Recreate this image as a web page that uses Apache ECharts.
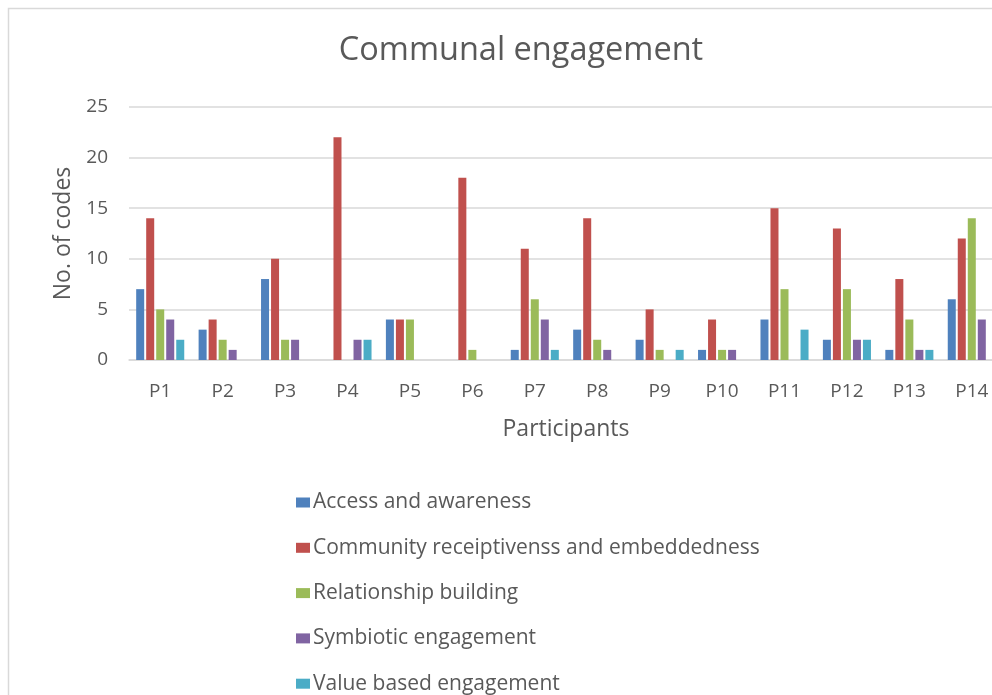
<!DOCTYPE html>
<html>
<head>
<meta charset="utf-8">
<title>Communal engagement</title>
<script src="https://cdn.jsdelivr.net/npm/echarts@6/dist/echarts.min.js"></script>
<style>
  html, body { margin: 0; padding: 0; background: #ffffff; overflow: hidden; }
  /* the chart area runs a little past the right edge of the window */
  #chart { width: 1010px; height: 695px; }
</style>
</head>
<body>
<div id="chart"></div>
<script>
// Participants on the category axis
const participants = ['P1', 'P2', 'P3', 'P4', 'P5', 'P6', 'P7', 'P8', 'P9', 'P10', 'P11', 'P12', 'P13', 'P14'];

// Number of codes per theme, one value per participant
const accessAwareness      = [7, 3, 8, 0, 4, 0, 1, 3, 2, 1, 4, 2, 1, 6];
const communityReceptive   = [14, 4, 10, 22, 4, 18, 11, 14, 5, 4, 15, 13, 8, 12];
const relationshipBuilding = [5, 2, 2, 0, 4, 1, 6, 2, 1, 1, 7, 7, 4, 14];
const symbioticEngagement  = [4, 1, 2, 2, 0, 0, 4, 1, 0, 1, 0, 2, 1, 4];
const valueBased           = [2, 0, 0, 2, 0, 0, 1, 0, 1, 0, 3, 2, 1, 0];

// Y axis ticks
const yTicks = [0, 5, 10, 15, 20, 25];

const seriesNames = [
  'Access and awareness',
  'Community receiptivenss and embeddedness',
  'Relationship building',
  'Symbiotic engagement',
  'Value based engagement'
];
const seriesData = [accessAwareness, communityReceptive, relationshipBuilding, symbioticEngagement, valueBased];
const palette = ['#4F81BD', '#C0504D', '#9BBB59', '#8064A2', '#4BACC6'];

const FONT = '"Open Sans", "Liberation Sans", sans-serif';
const TEXT = '#595959';

const chart = echarts.init(document.getElementById('chart'), null, { renderer: 'canvas' });

chart.setOption({
  animation: false,
  backgroundColor: '#ffffff',
  color: palette,
  textStyle: { fontFamily: FONT, color: TEXT },
  title: {
    text: 'Communal engagement',
    left: 516,
    top: 29,
    textAlign: 'center',
    textStyle: { fontFamily: FONT, fontSize: 32.5, fontWeight: 'normal', color: TEXT }
  },
  graphic: [{
    type: 'rect',
    silent: true,
    z: -10,
    shape: { x: 8.5, y: 8.5, width: 1100, height: 800 },
    style: { fill: 'none', stroke: '#D9D9D9', lineWidth: 1.5 }
  }],
  legend: {
    orient: 'vertical',
    left: 296,
    top: 492,
    height: 260,
    padding: 0,
    itemWidth: 14,
    itemHeight: 10,
    itemGap: 24.3,
    icon: 'rect',
    data: seriesNames,
    itemStyle: { borderWidth: 0 },
    textStyle: { fontFamily: FONT, fontSize: 21, color: TEXT, padding: [0, 0, 0, -2] }
  },
  grid: {
    left: 129,
    top: 107,
    right: 7,
    height: 253,
    containLabel: false
  },
  xAxis: {
    type: 'category',
    data: participants,
    name: 'Participants',
    nameLocation: 'middle',
    nameGap: 58,
    nameTextStyle: { fontFamily: FONT, fontSize: 23, color: TEXT },
    axisLine: { lineStyle: { color: '#D9D9D9', width: 1.5 } },
    axisTick: { show: false },
    axisLabel: { fontFamily: FONT, fontSize: 19, color: TEXT, margin: 22 }
  },
  yAxis: {
    type: 'value',
    min: yTicks[0],
    max: yTicks[yTicks.length - 1],
    interval: yTicks[1] - yTicks[0],
    name: 'No. of codes',
    nameLocation: 'middle',
    nameGap: 53,
    nameRotate: 90,
    nameTextStyle: { fontFamily: FONT, fontSize: 23, color: TEXT },
    axisLine: { show: false },
    axisTick: { show: false },
    axisLabel: { fontFamily: FONT, fontSize: 19, color: TEXT, margin: 21 },
    splitLine: { lineStyle: { color: '#D9D9D9', width: 1.5 } }
  },
  series: seriesNames.map((name, i) => ({
    name: name,
    type: 'bar',
    data: seriesData[i],
    barCategoryGap: '23%',
    barGap: '25%',
    itemStyle: { color: palette[i] }
  }))
});
</script>
</body>
</html>
